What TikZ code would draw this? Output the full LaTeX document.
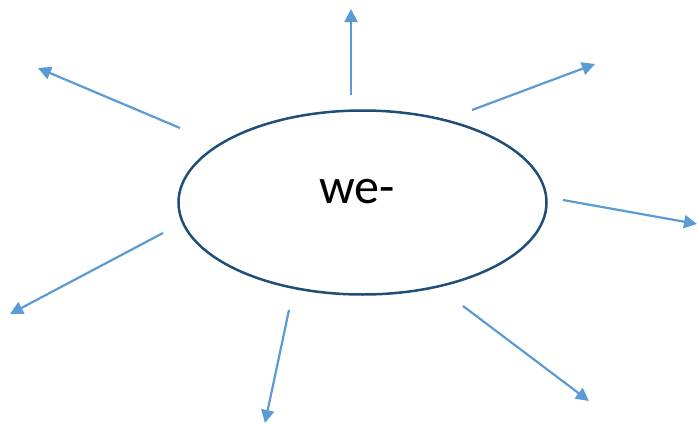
\documentclass[tikz,border=0pt]{standalone}
\usepackage{fontspec}
\setmainfont{Carlito}
\usetikzlibrary{arrows.meta}
\usetikzlibrary{shapes.geometric}
\definecolor{rayblue}{HTML}{5B9BD5}
\definecolor{rimblue}{HTML}{1F4E79}
\begin{document}
\begin{tikzpicture}[x=1pt,y=-1pt,ray/.style={draw=rayblue,line width=2.2pt,-{Triangle[length=13pt,width=13pt]}},rim/.style={ellipse,draw=rimblue,line width=2.5pt,minimum width=368pt,minimum height=184pt,inner sep=0pt}]
	\useasboundingbox (0,0) rectangle (697,423);
	\node[rim] (stem) at (362.5,202.5) {};
	\node[inner sep=0pt] (word) at (357,192) {\fontsize{50}{60}\selectfont we-};
	\coordinate (n0) at (351,95);   \coordinate (n1) at (351,9);
	\coordinate (ne0) at (472,110); \coordinate (ne1) at (595,64);
	\coordinate (e0) at (563,200);  \coordinate (e1) at (697,224);
	\coordinate (se0) at (463,306); \coordinate (se1) at (589,401);
	\coordinate (s0) at (289,310);  \coordinate (s1) at (265,423);
	\coordinate (sw0) at (163,233); \coordinate (sw1) at (10,314);
	\coordinate (nw0) at (180,128); \coordinate (nw1) at (38,68);
	\draw[ray] (n0) -- (n1);
	\draw[ray] (ne0) -- (ne1);
	\draw[ray] (e0) -- (e1);
	\draw[ray] (se0) -- (se1);
	\draw[ray] (s0) -- (s1);
	\draw[ray] (sw0) -- (sw1);
	\draw[ray] (nw0) -- (nw1);
\end{tikzpicture}
\end{document}
